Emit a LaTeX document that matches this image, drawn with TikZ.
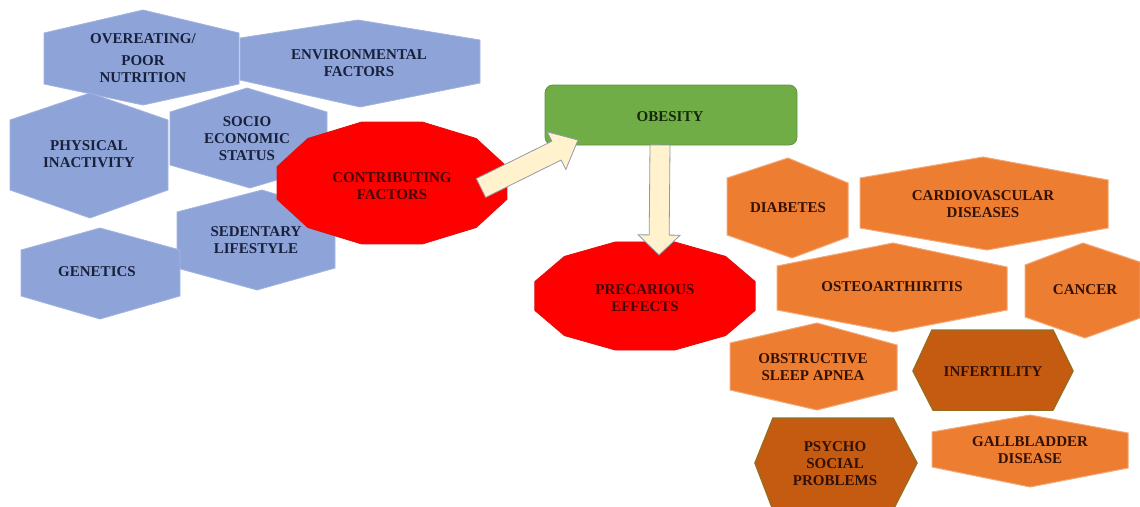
\documentclass[tikz,border=0pt]{standalone}
\usepackage{fontspec}
\setmainfont{Liberation Serif}
\usetikzlibrary{calc}
\definecolor{bluefill}{HTML}{8EA4D8}
\definecolor{blueline}{HTML}{A3B3DE}
\definecolor{bluetext}{HTML}{18213C}
\definecolor{orfill}{HTML}{ED7D31}
\definecolor{orline}{HTML}{F2A774}
\definecolor{dorfill}{HTML}{C55A11}
\definecolor{dorline}{HTML}{9C6B1E}
\definecolor{ortext}{HTML}{341105}
\definecolor{redfill}{HTML}{FF0000}
\definecolor{redline}{HTML}{E01010}
\definecolor{redtext}{HTML}{450404}
\definecolor{grfill}{HTML}{70AD47}
\definecolor{grline}{HTML}{5E9440}
\definecolor{grtext}{HTML}{14290A}
\definecolor{arfill}{HTML}{FFF2CC}
\definecolor{arline}{HTML}{8E9AAB}
\newcommand{\myblockarrow}[5]{%
  \coordinate (hb) at ($(#2)!#5!(#1)$);
  \draw[arrowbox] ($(#1)!#3!90:(#2)$) -- ($(hb)!#3!90:(#2)$) -- ($(hb)!#4!90:(#2)$)
    -- (#2) -- ($(hb)!#4!-90:(#2)$) -- ($(hb)!#3!-90:(#2)$) -- ($(#1)!#3!-90:(#2)$) -- cycle;}
\begin{document}
\begin{tikzpicture}[x=1pt,y=-1pt,
  lbl/.style={font=\bfseries\fontsize{15}{17}\selectfont, align=center, inner sep=0pt},
  bluebox/.style={fill=bluefill, draw=blueline, line width=0.8pt},
  orbox/.style={fill=orfill, draw=orline, line width=1pt},
  dorbox/.style={fill=dorfill, draw=dorline, line width=1.5pt},
  redbox/.style={fill=redfill, draw=redline, line width=0.8pt},
  grbox/.style={fill=grfill, draw=grline, line width=0.8pt, rounded corners=8pt},
  arrowbox/.style={fill=arfill, draw=arline, line width=0.8pt, line join=miter},
  bt/.style={lbl, text=bluetext},
  ot/.style={lbl, text=ortext},
  rt/.style={lbl, text=redtext},
  gt/.style={lbl, text=grtext}]
\useasboundingbox (0,0) rectangle (1140,506);
\clip (0,0) rectangle (1140,506);
% blue hexagons
\draw[bluebox] (143,10) -- (239,33) -- (239,84) -- (143,105) -- (44,84) -- (44,33) -- cycle;
\draw[bluebox] (358,20) -- (480,40) -- (480,83) -- (360,107) -- (240,80) -- (240,38) -- cycle;
\draw[bluebox] (90,93) -- (168,120) -- (168,190) -- (90,218) -- (10,190) -- (10,120) -- cycle;
\draw[bluebox] (247,88) -- (327,112) -- (327,165) -- (250,188) -- (170,165) -- (170,112) -- cycle;
\draw[bluebox] (262,190) -- (335,212) -- (335,268) -- (257,290) -- (177,268) -- (177,212) -- cycle;
\draw[bluebox] (100,228) -- (180,250) -- (180,296) -- (100,319) -- (21,296) -- (21,250) -- cycle;
% orange hexagons
\draw[orbox] (788,158) -- (848,183) -- (848,237) -- (792,258) -- (727,235) -- (727,178) -- cycle;
\draw[orbox] (983,157) -- (1108,180) -- (1108,228) -- (987,250) -- (860,228) -- (860,178) -- cycle;
\draw[orbox] (893,243) -- (1007,267) -- (1007,310) -- (893,332) -- (777,310) -- (777,266) -- cycle;
\draw[orbox] (1083,243) -- (1140,262) -- (1140,318) -- (1085,338) -- (1025,317) -- (1025,265) -- cycle;
\draw[orbox] (817,323) -- (897,345) -- (897,390) -- (817,410) -- (730,390) -- (730,343) -- cycle;
\draw[orbox] (1030,415) -- (1128,433) -- (1128,468) -- (1030,487) -- (932,467) -- (932,432) -- cycle;
\draw[dorbox] (932,330) -- (1053,330) -- (1073,371) -- (1053,410) -- (933,410) -- (913,371) -- cycle;
\draw[dorbox] (773,418) -- (893,418) -- (917,463) -- (893,510) -- (773,510) -- (755,463) -- cycle;
% red polygons
\draw[redbox] plot[samples at={15,45,...,345}] ({392+119*cos(\x)},{183+63*sin(\x)}) -- cycle;
\draw[redbox] plot[samples at={15,45,...,345}] ({645+114*cos(\x)},{296+56*sin(\x)}) -- cycle;
% green box
\draw[grbox] (545,85) rectangle (797,145);
% labels
\node[bt] (over) at (143,58) {OVEREATING/\\[5pt]POOR\\NUTRITION};
\node[bt] (env) at (359,63) {ENVIRONMENTAL\\FACTORS};
\node[bt] (phys) at (89,154) {PHYSICAL\\INACTIVITY};
\node[bt] (socio) at (247,139) {SOCIO\\ECONOMIC\\STATUS};
\node[bt] (sed) at (256,240) {SEDENTARY\\LIFESTYLE};
\node[bt] (gen) at (97,272) {GENETICS};
\node[rt] (contrib) at (392,186) {CONTRIBUTING\\FACTORS};
\node[gt] (obes) at (670,117) {OBESITY};
\node[rt] (prec) at (645,298) {PRECARIOUS\\EFFECTS};
\node[ot] (diab) at (788,208) {DIABETES};
\node[ot] (cardio) at (983,204) {CARDIOVASCULAR\\DISEASES};
\node[ot] (osteo) at (892,287) {OSTEOARTHIRITIS};
\node[ot] (cancer) at (1085,290) {CANCER};
\node[ot] (osa) at (813,367) {OBSTRUCTIVE\\SLEEP APNEA};
\node[ot] (infert) at (993,372) {INFERTILITY};
\node[ot] (psycho) at (835,464) {PSYCHO\\SOCIAL\\PROBLEMS};
\node[ot] (gall) at (1030,450) {GALLBLADDER\\DISEASE};
% block arrows
\coordinate (a1s) at (481,188);
\coordinate (a1e) at (578,140);
\coordinate (a2s) at (660,145);
\coordinate (a2e) at (659,255);
\myblockarrow{a1s}{a1e}{10.5pt}{21pt}{24pt}
\myblockarrow{a2s}{a2e}{10pt}{21pt}{20pt}
\end{tikzpicture}
\end{document}
